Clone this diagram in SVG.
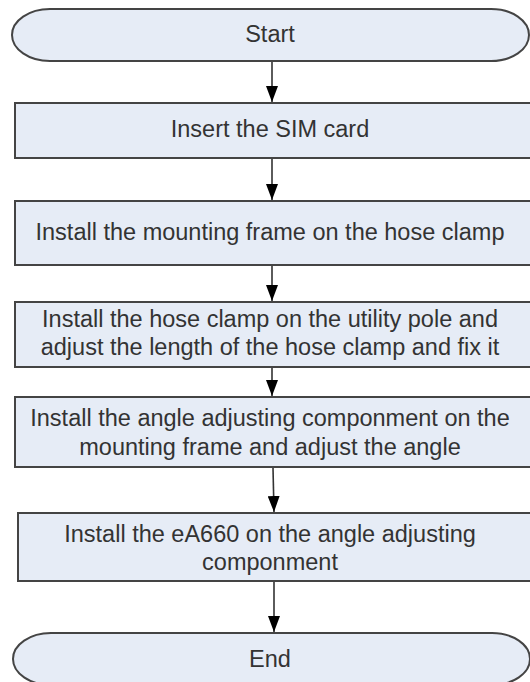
<svg xmlns="http://www.w3.org/2000/svg" width="530" height="682" viewBox="0 0 530 682">
<style>
.n{fill:#e6ecf6;stroke:#444;stroke-width:2}
.t{font-family:"Liberation Sans",Arial,sans-serif;font-size:23.5px;fill:#333;text-anchor:middle}
.c{stroke:#333;stroke-width:1.6;fill:none}
</style>
<defs>
<marker id="ah" markerUnits="userSpaceOnUse" markerWidth="16" markerHeight="12" refX="16" refY="6" viewBox="0 0 16 12" orient="auto">
<path d="M0,0 L16,6 L0,12 Z" fill="#000"/>
</marker>
</defs>
<rect width="530" height="682" fill="#fff"/>
<g id="connectors">
<line class="c" x1="272" y1="62" x2="272" y2="102" marker-end="url(#ah)"/>
<line class="c" x1="272" y1="159" x2="272" y2="200" marker-end="url(#ah)"/>
<line class="c" x1="272" y1="266" x2="272" y2="301" marker-end="url(#ah)"/>
<line class="c" x1="272" y1="368" x2="272" y2="396" marker-end="url(#ah)"/>
<line class="c" x1="273" y1="468" x2="274" y2="512" marker-end="url(#ah)"/>
<line class="c" x1="274" y1="582" x2="274" y2="632" marker-end="url(#ah)"/>
</g>
<g id="start">
<path class="n" d="M50,9 H491 A38,26 0 0 1 491,61 H50 A38,26 0 0 1 50,9 Z"/>
<text class="t" x="270" y="42">Start</text>
</g>
<g id="step1">
<rect class="n" x="15" y="103" width="520" height="55"/>
<text class="t" x="270" y="137">Insert the SIM card</text>
</g>
<g id="step2">
<rect class="n" x="15" y="201" width="520" height="64"/>
<text class="t" x="270" y="240">Install the mounting frame on the hose clamp</text>
</g>
<g id="step3">
<rect class="n" x="15" y="302" width="520" height="65"/>
<text class="t" x="270" y="327">Install the hose clamp on the utility pole and</text>
<text class="t" x="270" y="355">adjust the length of the hose clamp and fix it</text>
</g>
<g id="step4">
<rect class="n" x="15" y="397" width="520" height="70"/>
<text class="t" x="270" y="426">Install the angle adjusting componment on the</text>
<text class="t" x="270" y="455">mounting frame and adjust the angle</text>
</g>
<g id="step5">
<rect class="n" x="18" y="513" width="520" height="68"/>
<text class="t" x="270" y="542">Install the eA660 on the angle adjusting</text>
<text class="t" x="270" y="570">componment</text>
</g>
<g id="end">
<path class="n" d="M51,633 H492 A38,26 0 0 1 492,685 H51 A38,26 0 0 1 51,633 Z"/>
<text class="t" x="270" y="667">End</text>
</g>
</svg>
